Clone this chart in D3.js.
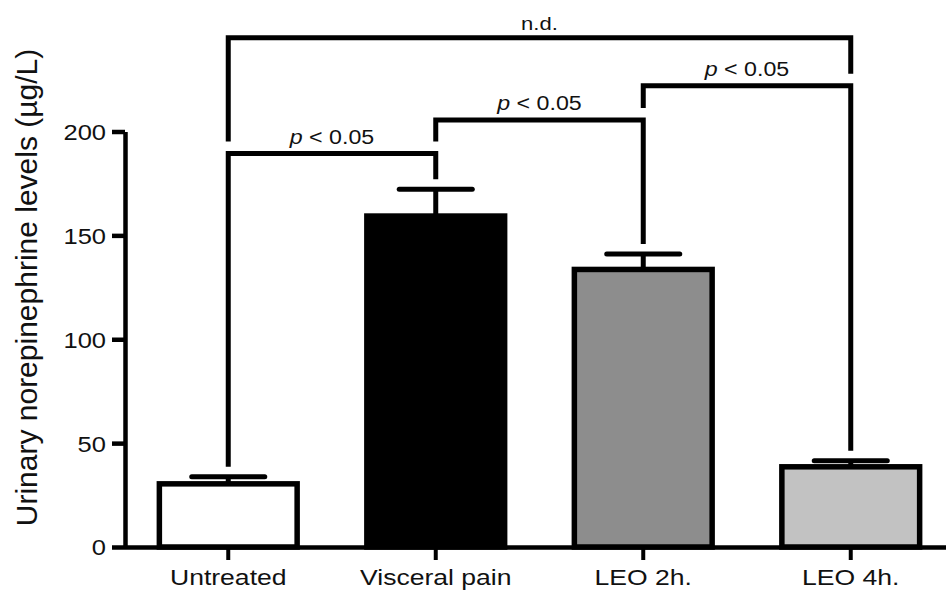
<!DOCTYPE html>
<html>
<head>
<meta charset="utf-8">
<script src="https://cdn.jsdelivr.net/npm/d3@7"></script>
<style>
  html, body { margin: 0; padding: 0; background: #ffffff; }
  svg { display: block; }
  text { font-family: "Liberation Sans", Arial, Helvetica, sans-serif; fill: #111; }
</style>
</head>
<body>
<svg id="chart" width="946" height="591"></svg>
<script>
// ---- data ----
const categories = ["Untreated", "Visceral pain", "LEO 2h.", "LEO 4h."];
const means = [30.4, 159.3, 133.6, 38.6];
const errors = [3.4, 12.9, 7.4, 2.9];
const yTicks = [0, 50, 100, 150, 200];
const bracketFrom = [0, 1, 2, 0];
const bracketTo = [1, 2, 3, 3];
const bracketLevel = [189.4, 205.5, 222.0, 245.1];
const bracketLabel = ["p < 0.05", "p < 0.05", "p < 0.05", "n.d."];
const barFills = ["#ffffff", "#000000", "#8d8d8d", "#c2c2c2"];

// ---- layout ----
const W = 946, H = 591;
const svg = d3.select("#chart");
const x = d3.scaleBand().domain(categories).range([124.5, 954.5])
  .paddingInner(0.336).paddingOuter(0.168);
const y = d3.scaleLinear().domain([0, 200]).range([547, 131.5]);
const stretch = 1.16;
const LW = 5;

// y axis
const gy = svg.append("g").attr("transform", "translate(125,0)")
  .call(d3.axisLeft(y).tickValues(yTicks).tickSize(13).tickSizeOuter(0).tickPadding(0));
gy.select(".domain").attr("stroke", "#000").attr("stroke-width", 4.5);
gy.selectAll(".tick line").attr("stroke", "#000").attr("stroke-width", 4.5);
gy.selectAll(".tick text")
  .attr("font-family", "Liberation Sans, Arial, sans-serif")
  .attr("font-size", 22).attr("fill", "#111")
  .attr("x", -19 / stretch).attr("dy", "0.36em")
  .attr("transform", `scale(${stretch},1)`);

// bars
const cx = d => x(d) + x.bandwidth() / 2;
svg.append("g").selectAll("rect").data(categories).join("rect")
  .attr("x", d => x(d))
  .attr("width", x.bandwidth())
  .attr("y", (d, i) => y(means[i]))
  .attr("height", (d, i) => y(0) - y(means[i]))
  .attr("fill", (d, i) => barFills[i])
  .attr("stroke", "#000").attr("stroke-width", 5.5)
  .attr("stroke-linejoin", "miter");

// x axis
const gx = svg.append("g").attr("transform", `translate(0,${y(0)})`)
  .call(d3.axisBottom(x).tickSize(13).tickSizeOuter(0).tickPadding(0));
gx.select(".domain").attr("stroke", "#000").attr("stroke-width", 4.5);
gx.selectAll(".tick line").attr("stroke", "#000").attr("stroke-width", 4);
gx.selectAll(".tick text")
  .attr("font-family", "Liberation Sans, Arial, sans-serif")
  .attr("font-size", 22.5).attr("fill", "#111")
  .attr("y", 38.5).attr("dy", 0)
  .attr("transform", `scale(${stretch + 0.02},1)`);

// error bars (upper only)
const capW = x.bandwidth() * 0.53;
const eb = svg.append("g").attr("stroke", "#000").attr("stroke-width", LW);
categories.forEach((c, i) => {
  eb.append("line").attr("x1", cx(c)).attr("x2", cx(c))
    .attr("y1", y(means[i])).attr("y2", y(means[i] + errors[i]));
  eb.append("line").attr("x1", cx(c) - capW / 2).attr("x2", cx(c) + capW / 2)
    .attr("y1", y(means[i] + errors[i])).attr("y2", y(means[i] + errors[i]))
    .attr("stroke-linecap", "round");
});

// significance brackets
function legEnd(b, idx) {
  const L = bracketLevel[b];
  let best = means[idx] + errors[idx], isBracket = false;
  bracketLevel.forEach((lv, k) => {
    if (k !== b && lv < L && (bracketFrom[k] === idx || bracketTo[k] === idx) && lv > best) {
      best = lv; isBracket = true;
    }
  });
  return y(best) - (isBracket ? 12 : 10);
}
const gb = svg.append("g");
bracketLevel.forEach((lv, b) => {
  const x1 = cx(categories[bracketFrom[b]]), x2 = cx(categories[bracketTo[b]]);
  const yl = y(lv);
  gb.append("path")
    .attr("d", `M${x1},${legEnd(b, bracketFrom[b])}V${yl}H${x2}V${legEnd(b, bracketTo[b])}`)
    .attr("fill", "none").attr("stroke", "#000").attr("stroke-width", LW)
    .attr("stroke-linejoin", "miter");
  const t = gb.append("text")
    .attr("transform", `translate(${(x1 + x2) / 2},${yl - (bracketLabel[b] === "n.d." ? 8 : 10)}) scale(${stretch},1)`)
    .attr("text-anchor", "middle")
    .attr("font-size", bracketLabel[b] === "n.d." ? 19 : 20);
  const lab = bracketLabel[b];
  if (lab.startsWith("p ")) {
    t.append("tspan").attr("font-style", "italic").text("p");
    t.append("tspan").text(lab.slice(1));
  } else {
    t.text(lab);
  }
});

// y title
svg.append("text")
  .attr("transform", `translate(37,${(45 + 530) / 2}) rotate(-90)`)
  .attr("text-anchor", "middle")
  .attr("font-size", 30)
  .text("Urinary norepinephrine levels (µg/L)");
</script>
</body>
</html>
